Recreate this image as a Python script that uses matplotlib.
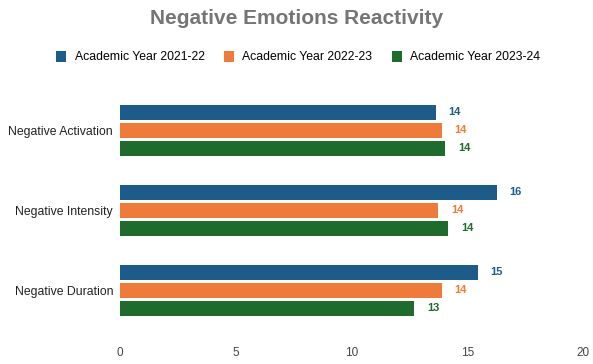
import matplotlib.pyplot as plt
import numpy as np

plt.rcParams["font.family"] = ["Liberation Sans", "DejaVu Sans"]

categories = ["Negative Activation", "Negative Intensity", "Negative Duration"]
years = ["Academic Year 2021-22", "Academic Year 2022-23", "Academic Year 2023-24"]
y2122 = [13.65, 16.27, 15.45]
y2223 = [13.9, 13.75, 13.9]
y2324 = [14.04, 14.18, 12.71]
colors = ["#1d5c88", "#ef7b3b", "#1f6b2c"]
xticks = [0, 5, 10, 15, 20]

fig = plt.figure(figsize=(5.93, 3.64), dpi=100)
ax = fig.add_axes([120 / 593, 34 / 364, 463 / 593, 240 / 364])

pos = np.arange(len(categories))
step = 18 / 80
height = 15 / 80
for i, (vals, col, lab) in enumerate(zip([y2122, y2223, y2324], colors, years)):
    yy = pos + (i - 1) * step
    ax.barh(yy, vals, height=height, color=col, label=lab)
    for y, v in zip(yy, vals):
        ax.text(v + 0.55, y, f"{v:.0f}", va="center", ha="left",
                fontsize=8, fontweight="bold", color=col)

ax.set_xlim(0, 20)
ax.set_ylim(2.5, -0.5)
ax.set_xticks(xticks)
ax.set_yticks(pos)
ax.set_yticklabels(categories)
ax.tick_params(axis="x", length=0, pad=12, labelsize=8.5, labelcolor="#444444")
ax.tick_params(axis="y", length=0, pad=5, labelsize=8.8, labelcolor="#222222")
for s in ax.spines.values():
    s.set_visible(False)

fig.text(0.5, 0.948, "Negative Emotions Reactivity", ha="center", va="center",
         fontsize=15, fontweight="bold", color="#757575")
fig.legend(loc="center", bbox_to_anchor=(0.503, 0.843), ncol=3, frameon=False,
           fontsize=8.8, handlelength=0.8, handleheight=1.0, columnspacing=1.6,
           handletextpad=0.7)

fig.savefig("out.png", dpi=100)
